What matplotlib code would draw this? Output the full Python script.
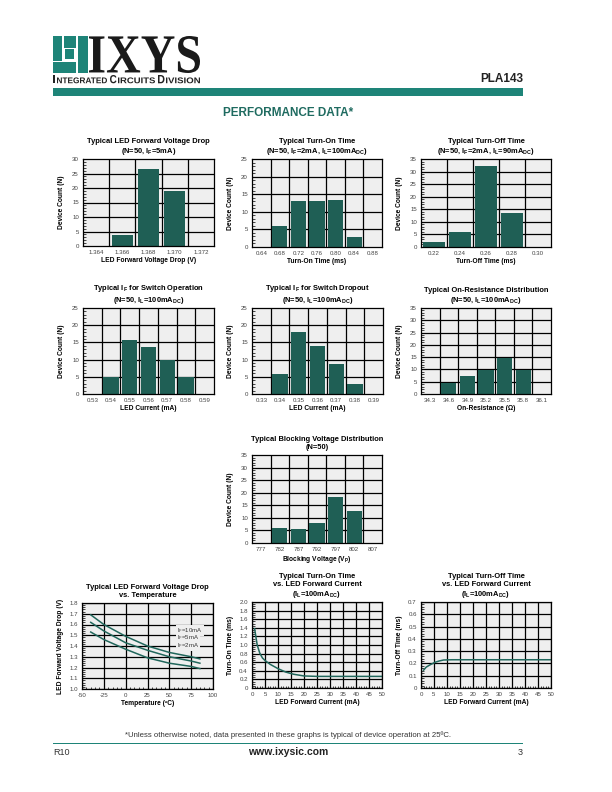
import matplotlib
matplotlib.use('Agg')
import matplotlib.pyplot as plt
import numpy as np
from matplotlib.patches import Rectangle, PathPatch
from matplotlib.textpath import TextPath
from matplotlib.font_manager import FontProperties
from matplotlib.transforms import Affine2D
from matplotlib.ticker import MultipleLocator

plt.rcParams['font.family'] = ['Liberation Sans', 'DejaVu Sans']
plt.rcParams['mathtext.default'] = 'regular'
plt.rcParams['axes.unicode_minus'] = False

W, H = 612, 792
TEAL = '#1e8478'
BAR = '#1f5f55'
LINE = '#21675c'
BG = '#efefef'

# ---- histogram data ----
fwd_cats = ['1.364', '1.366', '1.368', '1.370', '1.372']
fwd_counts = [0, 3.8, 26.6, 18.8, 0]

ton_cats = ['0.64', '0.68', '0.72', '0.76', '0.80', '0.84', '0.88']
ton_counts = [0, 5.9, 13.1, 13.1, 13.4, 2.8, 0]

toff_cats = ['0.22', '0.24', '0.26', '0.28', '0.30']
toff_counts = [2.0, 6.1, 32.3, 13.5, 0]

op_cats = ['0.53', '0.54', '0.55', '0.56', '0.57', '0.58', '0.59']
op_counts = [0, 4.8, 15.8, 13.8, 9.9, 4.8, 0]

drop_cats = ['0.33', '0.34', '0.35', '0.36', '0.37', '0.38', '0.39']
drop_counts = [0, 5.9, 17.9, 13.9, 8.6, 2.8, 0]

ron_cats = ['34.3', '34.6', '34.9', '35.2', '35.5', '35.8', '36.1']
ron_counts = [0, 4.6, 7.5, 9.8, 14.5, 9.8, 0]

bv_cats = ['777', '782', '787', '792', '797', '802', '807']
bv_counts = [0, 5.8, 5.4, 8.1, 18.4, 12.8, 0]

# ---- curve data ----
temp = [-40, -25, 0, 25, 50, 75, 85]
vf_10ma = [1.69, 1.60, 1.49, 1.40, 1.34, 1.30, 1.28]
vf_5ma = [1.62, 1.54, 1.43, 1.36, 1.30, 1.26, 1.24]
vf_2ma = [1.53, 1.46, 1.37, 1.29, 1.24, 1.21, 1.19]

ton_if = [1, 2, 3, 4, 5, 7, 10, 13, 16, 20, 25, 30, 40, 50]
ton_ms = [1.38, 1.0, 0.81, 0.70, 0.64, 0.55, 0.45, 0.37, 0.32, 0.28, 0.27, 0.27, 0.27, 0.27]

toff_if = [1, 2, 3.6, 5.5, 7, 8.7, 12, 20, 30, 50]
toff_ms = [0.145, 0.17, 0.19, 0.21, 0.22, 0.228, 0.23, 0.23, 0.23, 0.23]

fig = plt.figure(figsize=(W / 100, H / 100), dpi=100)


def px_rect(x0, y0, x1, y1):
    return [x0 / W, 1 - y1 / H, (x1 - x0) / W, (y1 - y0) / H]


def fig_box(x0, y0, x1, y1, color):
    fig.add_artist(Rectangle((x0 / W, 1 - y1 / H), (x1 - x0) / W, (y1 - y0) / H,
                             transform=fig.transFigure, color=color, lw=0))


def fig_text(x, y, s, **kw):
    fig.text(x / W, 1 - y / H, s, **kw)


def fig_word(s, x0, y0, x1, y1, prop, color):
    # glyph outlines stretched into a pixel box (logo lettering)
    tp = TextPath((0, 0), s, size=10, prop=prop)
    ext = tp.get_extents()
    sx = (x1 - x0) / ext.width
    sy = (y1 - y0) / ext.height
    tr = (Affine2D().translate(-ext.x0, -ext.y0).scale(sx / W, sy / H)
          .translate(x0 / W, 1 - y1 / H) + fig.transFigure)
    fig.add_artist(PathPatch(tp, transform=tr, color=color, lw=0))


def style_axes(ax):
    ax.set_facecolor(BG)
    for sp in ax.spines.values():
        sp.set_linewidth(0.9)
        sp.set_color('black')
        sp.set_zorder(5)
    ax.tick_params(which='major', length=0, labelsize=4.4, labelcolor='#444444', pad=3)
    ax.tick_params(which='minor', direction='in', length=1.8, width=0.5, left=True, bottom=False)


def hist_panel(rect, title, cats, counts, ymax, xlabel):
    ax = fig.add_axes(px_rect(*rect))
    style_axes(ax)
    x = np.arange(len(cats))
    ax.bar(x, counts, width=0.82, color=BAR, zorder=3)
    ax.set_xlim(-0.5, len(cats) - 0.5)
    ax.set_ylim(0, ymax)
    ax.set_xticks(x, cats)
    ax.yaxis.set_major_locator(MultipleLocator(5))
    ax.yaxis.set_minor_locator(MultipleLocator(1))
    for b in x[:-1] + 0.5:
        ax.axvline(b, color='black', lw=0.9, zorder=2)
    for t in np.arange(5, ymax, 5):
        ax.axhline(t, color='black', lw=0.9, zorder=2)
    ax.set_title(title, fontsize=5.4, fontweight='bold', pad=4, linespacing=1.2)
    ax.set_xlabel(xlabel, fontsize=4.8, fontweight='bold', labelpad=1)
    ax.set_ylabel('Device Count (N)', fontsize=4.8, fontweight='bold', labelpad=5)
    return ax


def curve_panel(rect, title, xlim, xstep, ylim, ystep, xlabel, ylabel, xminor, yminor, yfmt):
    ax = fig.add_axes(px_rect(*rect))
    style_axes(ax)
    ax.tick_params(which='minor', bottom=True)
    ax.set_xlim(*xlim)
    ax.set_ylim(*ylim)
    ax.xaxis.set_major_locator(MultipleLocator(xstep))
    ax.yaxis.set_major_locator(MultipleLocator(ystep))
    ax.xaxis.set_minor_locator(MultipleLocator(xminor))
    ax.yaxis.set_minor_locator(MultipleLocator(yminor))
    ax.yaxis.set_major_formatter(yfmt)
    ax.grid(True, which='major', color='black', lw=0.9, zorder=1)
    ax.set_axisbelow(True)
    ax.set_title(title, fontsize=5.4, fontweight='bold', pad=4, linespacing=1.2)
    ax.set_xlabel(xlabel, fontsize=4.8, fontweight='bold', labelpad=1)
    ax.set_ylabel(ylabel, fontsize=4.8, fontweight='bold', labelpad=4)
    return ax


# ---- header ----
fig_box(53, 36, 87.5, 73, TEAL)
fig_box(62, 36, 63.6, 62.2, 'white')
fig_box(53, 60.8, 77.5, 62.4, 'white')
fig_box(76, 36, 77.6, 73, 'white')
fig_box(63.6, 47.5, 76, 60.8, 'white')
fig_box(65.2, 49.1, 74.4, 59.2, TEAL)

serif_b = FontProperties(family=['Liberation Serif', 'DejaVu Serif'], weight='bold')
sans_b = FontProperties(family=['Liberation Sans', 'DejaVu Sans'], weight='bold')
fig_word('IXYS', 89, 36, 200, 73, serif_b, '#1a1a1a')
for s, x0, x1, big in [('I', 53, 55.3, True), ('NTEGRATED', 57, 107, False),
                       ('C', 110, 116.5, True), ('IRCUITS', 118, 155, False),
                       ('D', 158, 164.5, True), ('IVISION', 166, 200, False)]:
    fig_word(s, x0, 75 if big else 77.4, x1, 83.3, sans_b, '#222222')
fig_text(523, 82, 'PLA143', fontsize=8.5, fontweight='bold', ha='right', color='#222222')
fig_box(53, 88, 523, 95.5, TEAL)
fig_text(288, 116, 'PERFORMANCE DATA*', fontsize=8.5, fontweight='bold', ha='center',
         color='#1f6b60')

# ---- histograms ----
hist_panel((83, 159, 214, 246), 'Typical LED Forward Voltage Drop\n(N=50, $I_F$=5mA)',
           fwd_cats, fwd_counts, 30, 'LED Forward Voltage Drop (V)')
hist_panel((252, 159, 382, 247), 'Typical Turn-On Time\n(N=50, $I_F$=2mA, $I_L$=100mA$_{DC}$)',
           ton_cats, ton_counts, 25, 'Turn-On Time (ms)')
hist_panel((421, 159, 551, 247), 'Typical Turn-Off Time\n(N=50, $I_F$=2mA, $I_L$=90mA$_{DC}$)',
           toff_cats, toff_counts, 35, 'Turn-Off Time (ms)')
hist_panel((83, 308, 214, 394), 'Typical $I_F$ for Switch Operation\n(N=50, $I_L$=100mA$_{DC}$)',
           op_cats, op_counts, 25, 'LED Current (mA)')
hist_panel((252, 308, 383, 394), 'Typical $I_F$ for Switch Dropout\n(N=50, $I_L$=100mA$_{DC}$)',
           drop_cats, drop_counts, 25, 'LED Current (mA)')
hist_panel((421, 308, 551, 394), 'Typical On-Resistance Distribution\n(N=50, $I_L$=100mA$_{DC}$)',
           ron_cats, ron_counts, 35, 'On-Resistance (\u03a9)')
hist_panel((252, 455, 382, 543), 'Typical Blocking Voltage Distribution\n(N=50)',
           bv_cats, bv_counts, 35, 'Blocking Voltage ($V_P$)')

# ---- curves ----
ax = curve_panel((82, 603, 213, 689), 'Typical LED Forward Voltage Drop\nvs. Temperature',
                 (-50, 100), 25, (1.0, 1.8), 0.1, 'Temperature (\u00baC)',
                 'LED Forward Voltage Drop (V)', 5, 0.02, '{x:.1f}')
for vf in (vf_10ma, vf_5ma, vf_2ma):
    ax.plot(temp, vf, color=LINE, lw=1.1, zorder=3)
for lbl, yv in [('$I_F$=10mA', 1.545), ('$I_F$=5mA', 1.475), ('$I_F$=2mA', 1.405)]:
    ax.text(59, yv, lbl, fontsize=4.3, color='#333333', va='center', zorder=4,
            bbox=dict(facecolor=BG, edgecolor='none', pad=0.6))

ax = curve_panel((252, 602, 382, 688),
                 'Typical Turn-On Time\nvs. LED Forward Current\n($I_L$=100mA$_{DC}$)',
                 (0, 50), 5, (0, 2.0), 0.2, 'LED Forward Current (mA)', 'Turn-On Time (ms)',
                 1, 0.05, lambda v, p: '0' if v == 0 else f'{v:.1f}')
ax.plot(ton_if, ton_ms, color=LINE, lw=1.1, zorder=3)

ax = curve_panel((421, 602, 551, 688),
                 'Typical Turn-Off Time\nvs. LED Forward Current\n($I_L$=100mA$_{DC}$)',
                 (0, 50), 5, (0, 0.7), 0.1, 'LED Forward Current (mA)', 'Turn-Off Time (ms)',
                 1, 0.02, lambda v, p: '0' if v == 0 else f'{v:.1f}')
ax.plot(toff_if, toff_ms, color=LINE, lw=1.1, zorder=3)

# ---- footer ----
fig_text(288, 737, '*Unless otherwise noted, data presented in these graphs is typical of device operation at 25\u00baC.',
         fontsize=5.6, ha='center', color='#333333')
fig_box(53, 743, 523, 744, TEAL)
fig_text(53, 755, 'R10', fontsize=6.5, color='#333333')
fig_text(288, 755, 'www.ixysic.com', fontsize=7.5, fontweight='bold', ha='center', color='#222222')
fig_text(523, 755, '3', fontsize=6.5, ha='right', color='#333333')

fig.savefig('out.png', dpi=100)
